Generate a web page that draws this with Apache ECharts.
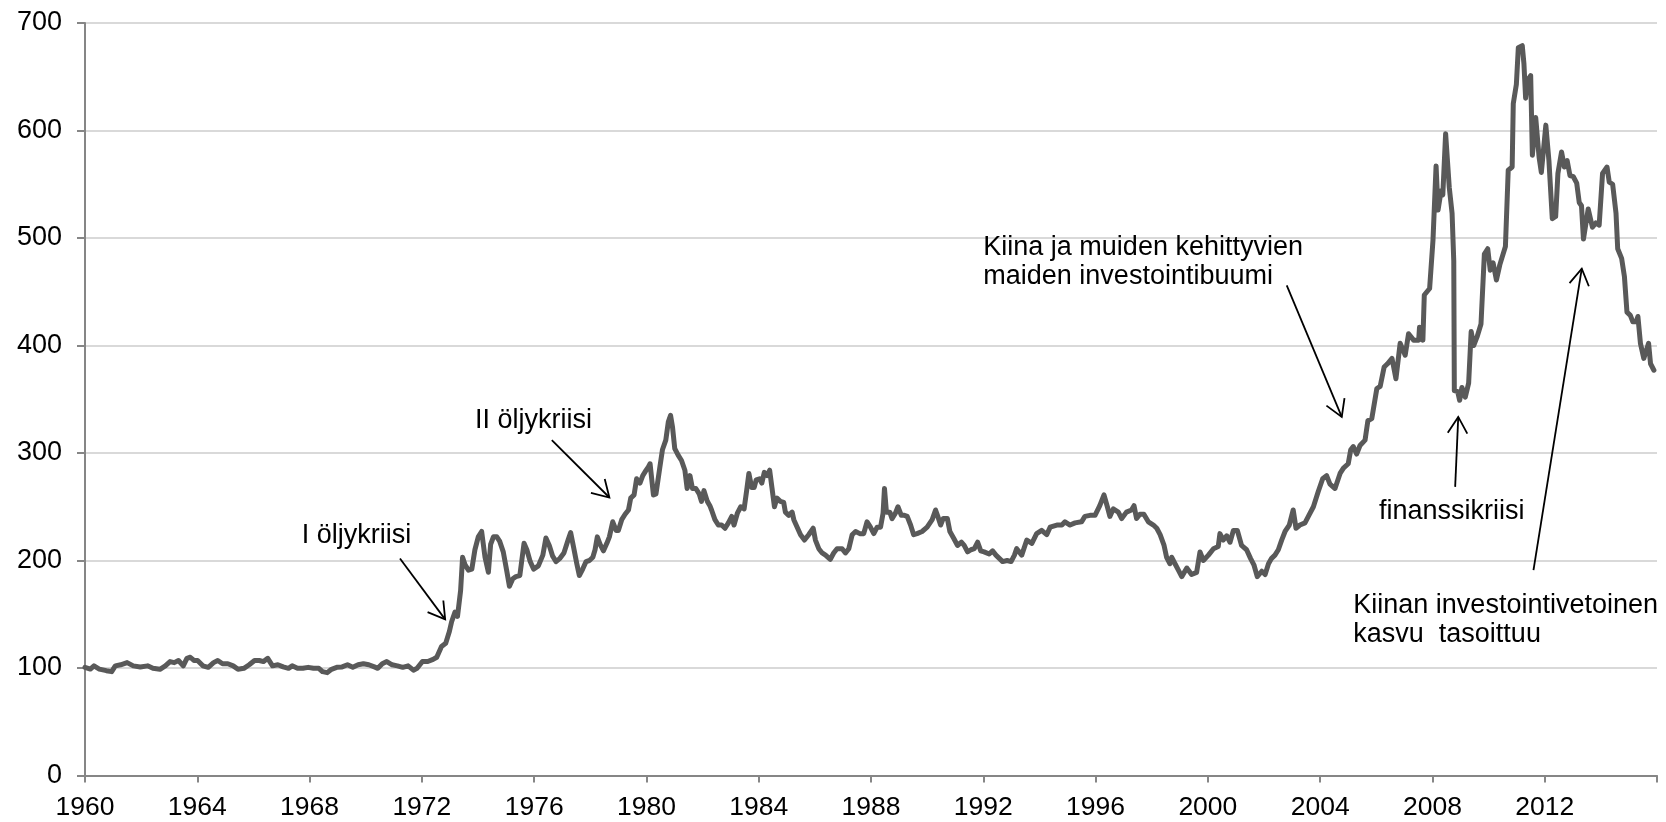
<!DOCTYPE html>
<html>
<head>
<meta charset="utf-8">
<script src="https://cdn.jsdelivr.net/npm/echarts@6/dist/echarts.min.js"></script>
<style>
html,body{margin:0;padding:0;background:#fff;}
#c{width:1666px;height:822px;}
</style>
</head>
<body>
<div id="c"></div>
<script>
// ---- data (decimal year, index value) ----
const years = [
1960.00,1960.19,1960.32,1960.51,1960.76,1960.95,1961.08,1961.27,1961.50,1961.72,1961.97,
1962.23,1962.42,1962.67,1962.86,1963.03,1963.18,1963.33,1963.50,1963.63,1963.75,1963.88,
1964.01,1964.20,1964.39,1964.58,1964.73,1964.90,1965.09,1965.28,1965.45,1965.66,1965.85,
1966.04,1966.21,1966.36,1966.51,1966.68,1966.87,1967.06,1967.25,1967.38,1967.57,1967.76,1967.95,
1968.14,1968.33,1968.46,1968.63,1968.78,1968.97,1969.16,1969.35,1969.54,1969.73,1969.92,
1970.11,1970.31,1970.43,1970.59,1970.75,1970.94,1971.13,1971.32,1971.51,1971.70,1971.83,
1972.02,1972.21,1972.40,1972.53,1972.70,1972.85,1972.98,1973.06,1973.18,1973.27,1973.38,1973.45,
1973.54,1973.66,1973.78,1973.89,1974.01,1974.13,1974.25,1974.37,1974.45,1974.55,1974.67,1974.77,1974.90,
1975.02,1975.12,1975.24,1975.35,1975.49,1975.64,1975.74,1975.86,1975.98,
1976.15,1976.31,1976.42,1976.54,1976.66,1976.78,1976.92,
1977.06,1977.22,1977.30,1977.40,1977.52,1977.61,1977.73,1977.85,1977.97,
1978.09,1978.17,1978.25,1978.35,1978.47,1978.59,1978.68,1978.80,1978.92,
1979.00,1979.12,1979.24,1979.36,1979.44,1979.56,1979.65,1979.77,1979.87,1979.99,
1980.07,1980.13,1980.25,1980.34,1980.48,1980.57,1980.69,1980.78,1980.86,1980.93,
1981.01,1981.13,1981.25,1981.37,1981.45,1981.55,1981.64,1981.76,1981.88,1981.96,
1982.05,1982.17,1982.26,1982.32,1982.44,1982.56,1982.68,1982.80,1982.92,
1983.04,1983.12,1983.24,1983.36,1983.48,1983.57,1983.65,1983.75,1983.84,1983.91,
1984.03,1984.11,1984.20,1984.30,1984.39,1984.47,1984.56,1984.65,1984.77,1984.89,1984.95,
1985.07,1985.19,1985.25,1985.37,1985.49,1985.63,1985.78,1985.94,
1986.02,1986.14,1986.26,1986.38,1986.55,1986.67,1986.79,1986.97,
1987.09,1987.21,1987.33,1987.45,1987.60,1987.74,1987.86,1987.98,
1988.10,1988.22,1988.34,1988.43,1988.48,1988.55,1988.67,1988.75,1988.87,1988.96,
1989.08,1989.19,1989.29,1989.41,1989.52,1989.64,1989.82,
1990.00,1990.18,1990.30,1990.38,1990.48,1990.57,1990.72,1990.81,1990.96,
1991.08,1991.22,1991.32,1991.44,1991.56,1991.68,1991.80,1991.91,
1992.03,1992.21,1992.33,1992.45,1992.57,1992.69,1992.85,1992.99,
1993.11,1993.19,1993.37,1993.55,1993.73,1993.90,
1994.08,1994.26,1994.38,1994.62,1994.80,1994.91,
1995.09,1995.27,1995.50,1995.62,1995.80,1995.98,
1996.15,1996.30,1996.42,1996.51,1996.63,1996.81,1996.93,
1997.10,1997.28,1997.37,1997.46,1997.58,1997.72,1997.88,
1998.06,1998.18,1998.30,1998.44,1998.53,1998.65,1998.71,1998.83,1998.95,
1999.07,1999.25,1999.42,1999.60,1999.72,1999.84,
2000.02,2000.20,2000.37,2000.43,2000.55,2000.67,2000.79,2000.91,
2001.05,2001.20,2001.38,2001.52,2001.64,2001.76,2001.92,
2002.04,2002.16,2002.27,2002.39,2002.51,2002.63,2002.75,2002.90,
2003.04,2003.14,2003.28,2003.46,2003.58,2003.76,2003.93,
2004.09,2004.23,2004.35,2004.53,2004.71,2004.83,
2005.00,2005.09,2005.18,2005.30,2005.42,2005.60,2005.70,2005.84,
2006.02,2006.14,2006.28,2006.40,2006.56,2006.70,2006.85,
2007.03,2007.15,2007.33,2007.51,2007.54,2007.66,2007.71,2007.90,
2008.02,2008.13,2008.20,2008.31,2008.37,2008.47,2008.60,2008.70,2008.76,2008.78,2008.90,2008.97,
2009.05,2009.17,2009.29,2009.38,2009.47,2009.59,2009.73,2009.85,2009.97,
2010.06,2010.16,2010.28,2010.40,2010.60,2010.70,2010.84,2010.88,2010.99,
2011.06,2011.20,2011.26,2011.32,2011.40,2011.50,2011.56,2011.68,2011.80,2011.88,
2012.04,2012.15,2012.27,2012.39,2012.47,2012.60,2012.70,2012.80,2012.90,
2013.02,2013.14,2013.23,2013.31,2013.38,2013.55,2013.70,2013.82,2013.94,
2014.06,2014.22,2014.30,2014.42,2014.54,2014.60,2014.74,2014.84,2014.93,
2015.05,2015.14,2015.26,2015.32,2015.41,2015.53,2015.70,2015.77,2015.89
];
const index = [
100.6,99,102,99,97.5,96.6,102,103,105,102,101,
102,99.7,98.8,102,106,105,107,102,109,110,107,
107,102,100.6,105,107,104,104,102,98.8,99.7,103,
107,107,106,109,102,103,101,99.7,102,99.7,99.7,100.6,
99.7,99.7,96.6,95.7,98.8,100.6,101,103,100.6,103,104,
103,101,99.7,104,106,103,102,100.6,102,98,99.7,
106,106,108,110,120,123,134,143,152,148,172,203,
196,191,192,210,222,227,203,189,215,222,222,218,208,
191,176,183,185,186,216,210,199,192,
195,205,221,214,204,199,202,
207,220,226,213,197,186,192,199,200,
203,210,222,215,209,216,222,236,228,
228,238,243,247,258,261,276,272,279,284,
287,290,261,262,287,303,312,329,335,324,
304,298,293,284,267,279,267,267,262,255,
265,255,251,247,238,233,233,230,235,
241,233,244,250,248,265,281,268,268,275,
276,272,282,279,284,268,250,258,255,254,245,
242,245,238,231,224,219,224,230,
219,211,207,205,201,207,211,211,
207,211,224,227,225,225,236,231,
225,231,231,244,267,245,245,239,244,250,
242,242,241,233,224,225,227,
231,238,247,241,233,239,239,227,220,
214,217,214,208,210,211,217,209,
208,206,209,205,202,199,200,199,
205,211,205,219,216,225,
228,224,231,233,233,236,
233,235,236,241,242,242,
251,261,250,241,248,245,239,
245,247,251,239,243,243,236,
233,230,224,214,203,197,203,197,191,
185,193,187,189,208,200,
205,211,213,225,219,223,217,228,
228,214,210,202,196,185,190,
187,197,202,205,210,219,227,233,
247,230,233,235,241,250,264,
276,279,271,267,281,286,
290,303,306,299,307,312,330,332,
360,362,380,383,388,369,402,
391,411,405,405,417,405,447,453,
498,567,526,544,540,597,547,523,479,358,357,349,
361,352,365,413,400,408,420,485,490,
470,477,461,475,492,563,566,625,643,
677,679,662,630,647,651,577,612,575,561,
605,572,518,520,560,580,566,572,558,
557,551,533,530,499,527,510,514,512,
560,566,552,550,523,490,481,464,431,
428,422,422,427,402,388,402,383,377
];
const yMin = 0, yMax = 700, yStep = 100;
const xMin = 1960, xMax = 2016, xStep = 4;

// ---- annotations ----
const noteTexts = [
  {text:'I öljykriisi', x:301.7, y:535.8},
  {text:'II öljykriisi', x:475, y:420.8},
  {text:'Kiina ja muiden kehittyvien', x:983.3, y:248},
  {text:'maiden investointibuumi', x:983.3, y:276.3},
  {text:'finanssikriisi', x:1379, y:511.7},
  {text:'Kiinan investointivetoinen', x:1353.3, y:606},
  {text:'kasvu  tasoittuu', x:1353.3, y:634.3}
];
// arrows given in data coordinates: tail -> head
const arrowTail = [[1971.22,201.9],[1976.63,311.9],[2002.81,456],[2008.81,268.5],[2011.60,191]];
const arrowHead = [[1972.83,145.2],[1978.68,258.6],[2004.77,333.6],[2008.92,333.6],[2013.32,471.5]];

const FONT = '"Liberation Sans", Arial, Helvetica, sans-serif';
const chart = echarts.init(document.getElementById('c'), null, {renderer:'canvas'});
chart.setOption({
  animation:false,
  backgroundColor:'#ffffff',
  grid:{left:85, right:9, top:23, bottom:46.5, containLabel:false},
  xAxis:{
    type:'value', min:xMin, max:xMax, interval:xStep,
    axisLine:{show:true, onZero:false, lineStyle:{color:'#868686', width:2}},
    axisTick:{show:true, length:7, lineStyle:{color:'#868686', width:2}},
    axisLabel:{fontSize:26.5, color:'#000', fontFamily:FONT, margin:19, lineHeight:26,
      showMinLabel:true, showMaxLabel:true,
      formatter:function(v){ return v >= xMax ? '' : String(v); }},
    splitLine:{show:false}
  },
  yAxis:{
    type:'value', min:yMin, max:yMax, interval:yStep,
    axisLine:{show:true, lineStyle:{color:'#868686', width:2}},
    axisTick:{show:true, length:8, lineStyle:{color:'#868686', width:2}},
    axisLabel:{fontSize:27, color:'#000', fontFamily:FONT, margin:23},
    splitLine:{show:true, lineStyle:{color:'#d9d9d9', width:2}}
  },
  series:[{
    type:'line',
    data: years.map(function(y,i){ return [y, index[i]]; }),
    symbol:'none', showSymbol:false,
    lineStyle:{color:'#595959', width:5, cap:'round', join:'round'},
    z:3
  }]
});

const graphics = [];
noteTexts.forEach(function(n){
  graphics.push({type:'text', x:n.x, y:n.y, z:10,
    style:{text:n.text, fontSize:27, fontFamily:FONT, fill:'#000', align:'left', verticalAlign:'middle'}});
});
arrowTail.forEach(function(t, i){
  const p0 = chart.convertToPixel({gridIndex:0}, t);
  const p1 = chart.convertToPixel({gridIndex:0}, arrowHead[i]);
  const dx = p0[0]-p1[0], dy = p0[1]-p1[1];
  const L = Math.sqrt(dx*dx+dy*dy);
  const ux = dx/L, uy = dy/L;
  const hl = 19, ang = 31*Math.PI/180;
  const c = Math.cos(ang), s = Math.sin(ang);
  const w1 = [p1[0] + hl*(ux*c - uy*s), p1[1] + hl*(ux*s + uy*c)];
  const w2 = [p1[0] + hl*(ux*c + uy*s), p1[1] + hl*(-ux*s + uy*c)];
  graphics.push({type:'line', z:10, shape:{x1:p0[0], y1:p0[1], x2:p1[0], y2:p1[1]},
    style:{stroke:'#000', lineWidth:1.8}});
  graphics.push({type:'polyline', z:10, shape:{points:[w1, p1, w2]},
    style:{stroke:'#000', lineWidth:1.8, fill:null}});
});
chart.setOption({graphic:graphics});
</script>
</body>
</html>
